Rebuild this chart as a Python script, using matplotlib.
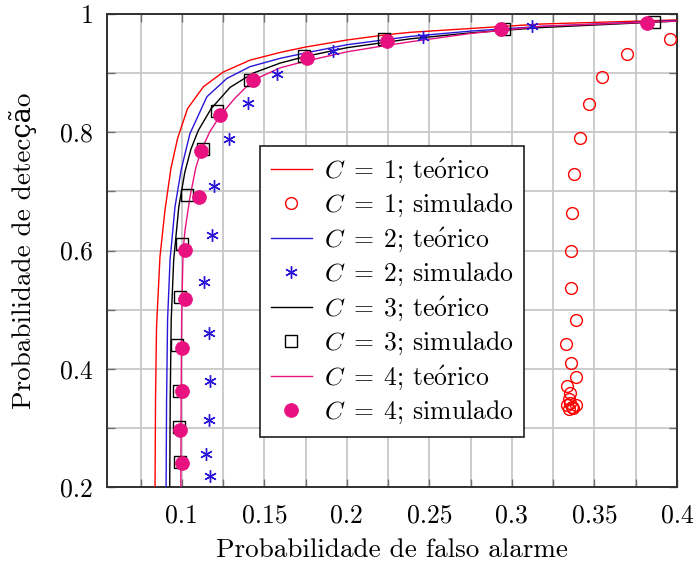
import matplotlib
matplotlib.use("Agg")
import matplotlib.pyplot as plt
from matplotlib.ticker import FixedLocator, NullFormatter

plt.rcParams["font.family"] = ["cmr10", "DejaVu Serif"]
plt.rcParams["mathtext.fontset"] = "cm"
plt.rcParams["axes.unicode_minus"] = False
plt.rcParams["axes.formatter.use_mathtext"] = True

# Theoretical ROC curves (Pfa, Pd)
teo1_pfa = [0.0838, 0.0841, 0.0847, 0.0868, 0.0899, 0.0935, 0.0975, 0.1035, 0.1131,
            0.1252, 0.1414, 0.1596, 0.1747, 0.2000, 0.2242, 0.2384, 0.3172, 0.4000]
teo1_pd = [0.200, 0.350, 0.470, 0.590, 0.670, 0.740, 0.790, 0.840, 0.877,
           0.902, 0.922, 0.935, 0.944, 0.956, 0.965, 0.969, 0.983, 0.990]

teo2_pfa = [0.0905, 0.0908, 0.0914, 0.0929, 0.0959, 0.0996, 0.1032, 0.1050, 0.1152,
            0.1273, 0.1414, 0.1596, 0.1747, 0.2000, 0.2384, 0.2747, 0.3172, 0.4000]
teo2_pd = [0.200, 0.348, 0.483, 0.584, 0.674, 0.736, 0.778, 0.798, 0.860,
           0.891, 0.911, 0.925, 0.934, 0.948, 0.962, 0.971, 0.979, 0.989]

teo3_pfa = [0.0927, 0.0930, 0.0936, 0.0951, 0.0982, 0.1019, 0.1055, 0.1100, 0.1178,
            0.1293, 0.1432, 0.1596, 0.1747, 0.2000, 0.2384, 0.2747, 0.3172, 0.4000]
teo3_pd = [0.200, 0.348, 0.483, 0.584, 0.674, 0.733, 0.771, 0.803, 0.840,
           0.876, 0.900, 0.917, 0.928, 0.943, 0.958, 0.968, 0.977, 0.988]

teo4_pfa = [0.0994, 0.0996, 0.0999, 0.1008, 0.1020, 0.1050, 0.1085, 0.1117, 0.1170,
            0.1234, 0.1320, 0.1430, 0.1596, 0.1747, 0.2000, 0.2242, 0.2384, 0.2747,
            0.3172, 0.4000]
teo4_pd = [0.200, 0.348, 0.483, 0.601, 0.635, 0.691, 0.740, 0.769, 0.801,
           0.8285, 0.857, 0.8877, 0.909, 0.920, 0.936, 0.947, 0.953, 0.967,
           0.979, 0.988]

# Simulated points (Pfa, Pd)
sim1_pfa = [0.3959, 0.3700, 0.3545, 0.3464, 0.3415, 0.3378, 0.3365, 0.3359, 0.3356,
            0.3390, 0.3329, 0.3359, 0.3390, 0.3335, 0.3352, 0.3343, 0.3353, 0.3333,
            0.3364, 0.3390, 0.3371, 0.3347]
sim1_pd = [0.958, 0.932, 0.894, 0.848, 0.790, 0.729, 0.664, 0.599, 0.537,
           0.483, 0.442, 0.409, 0.386, 0.370, 0.359, 0.348, 0.342, 0.338,
           0.336, 0.338, 0.334, 0.332]

sim2_pfa = [0.3121, 0.2464, 0.1915, 0.1578, 0.1404, 0.1288, 0.1196, 0.1185, 0.1133,
            0.1165, 0.1172, 0.1165, 0.1145, 0.1170]
sim2_pd = [0.979, 0.961, 0.937, 0.898, 0.849, 0.788, 0.709, 0.627, 0.546,
           0.461, 0.380, 0.314, 0.256, 0.218]

sim3_pfa = [0.3858, 0.2955, 0.2226, 0.1743, 0.1412, 0.1212, 0.1131, 0.1030, 0.1004,
            0.0992, 0.0973, 0.0985, 0.0985, 0.0988]
sim3_pd = [0.986, 0.974, 0.957, 0.929, 0.888, 0.836, 0.771, 0.694, 0.611,
           0.522, 0.441, 0.362, 0.302, 0.242]

sim4_pfa = [0.3818, 0.2935, 0.2242, 0.1758, 0.1430, 0.1234, 0.1117, 0.1103, 0.1018,
            0.1020, 0.1004, 0.1000, 0.0988, 0.1002]
sim4_pd = [0.985, 0.974, 0.955, 0.925, 0.888, 0.829, 0.769, 0.691, 0.601,
           0.518, 0.435, 0.363, 0.297, 0.240]

x_ticks = [0.1, 0.15, 0.2, 0.25, 0.3, 0.35, 0.4]
x_labels = ["0.1", "0.15", "0.2", "0.25", "0.3", "0.35", "0.4"]
x_minor = [0.075, 0.125, 0.175, 0.225, 0.275, 0.325, 0.375]
y_ticks = [0.2, 0.4, 0.6, 0.8, 1.0]
y_labels = ["0.2", "0.4", "0.6", "0.8", "1"]
y_minor = [0.3, 0.5, 0.7, 0.9]

TEO = r"te$\mathrm{\acute{o}}$rico"
labels = [rf"$C\;=\;{c}$; {kind}" for c in (1, 2, 3, 4)
          for kind in (TEO, "simulado")]

RED = "#ff0000"
BLUE = "#2a16d8"
BLACK = "#000000"
MAGENTA = "#e8117f"
FS = 18.5

fig = plt.figure(figsize=(6.97, 5.65), dpi=100)
ax = fig.add_axes([107 / 697, 1 - 487 / 565, 570 / 697, 473 / 565])

lw = 1.0
ax.plot(teo1_pfa, teo1_pd, color=RED, lw=lw, label=labels[0], zorder=3)
ax.plot(sim1_pfa, sim1_pd, ls="none", marker="o", ms=8.5, mfc="none", mec=RED,
        mew=1.0, label=labels[1], zorder=4)
ax.plot(teo2_pfa, teo2_pd, color=BLUE, lw=lw, label=labels[2], zorder=3)
ax.plot(sim2_pfa, sim2_pd, ls="none", marker=(6, 2, 0), ms=9, mec=BLUE,
        mew=1.0, label=labels[3], zorder=4)
ax.plot(teo3_pfa, teo3_pd, color=BLACK, lw=lw, label=labels[4], zorder=3)
ax.plot(sim3_pfa, sim3_pd, ls="none", marker="s", ms=8.5, mfc="none", mec=BLACK,
        mew=1.0, label=labels[5], zorder=4)
ax.plot(teo4_pfa, teo4_pd, color=MAGENTA, lw=lw, label=labels[6], zorder=3)
ax.plot(sim4_pfa, sim4_pd, ls="none", marker="o", ms=10, mfc=MAGENTA, mec=MAGENTA,
        mew=0.5, label=labels[7], zorder=5)

ax.set_xlim(0.0547, 0.4)
ax.set_ylim(0.2, 1.0)

ax.xaxis.set_major_locator(FixedLocator(x_ticks))
ax.set_xticklabels(x_labels)
ax.xaxis.set_minor_locator(FixedLocator(x_minor))
ax.yaxis.set_major_locator(FixedLocator(y_ticks))
ax.set_yticklabels(y_labels)
ax.yaxis.set_minor_locator(FixedLocator(y_minor))
ax.xaxis.set_minor_formatter(NullFormatter())
ax.yaxis.set_minor_formatter(NullFormatter())

ax.grid(True, which="both", color="#c8c8c8", lw=1.3, zorder=0)
ax.set_axisbelow(True)
ax.tick_params(which="both", direction="in", top=True, right=True, length=6,
               width=1.0, color="#707070", labelsize=FS)
ax.tick_params(axis="x", pad=12)
ax.tick_params(axis="y", pad=10)
for s in ax.spines.values():
    s.set_linewidth(1.4)
    s.set_color("#303030")

ax.set_xlabel("Probabilidade de falso alarme", fontsize=19.5, labelpad=8)
ax.set_ylabel("Probabilidade de detecção", fontsize=19.5, labelpad=17)

leg = ax.legend(loc="center", bbox_to_anchor=(0.5, 0.4135), fontsize=FS,
                numpoints=1, handlelength=1.6, handletextpad=0.45,
                labelspacing=0.255, borderpad=0.42, borderaxespad=0,
                fancybox=False, framealpha=1, edgecolor="#202020")
leg.get_frame().set_linewidth(1.2)
leg.set_zorder(10)

fig.savefig("out.png", dpi=100)
